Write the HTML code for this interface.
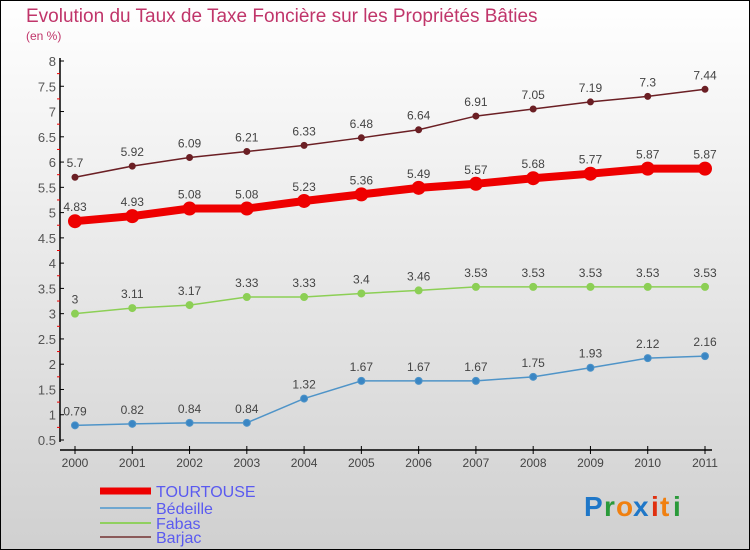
<!DOCTYPE html>
<html><head><meta charset="utf-8"><style>
body{margin:0}
#c{width:750px;height:550px;position:relative;overflow:hidden;background:linear-gradient(#ffffff,#d0d0d0);font-family:"Liberation Sans",sans-serif}
</style></head><body>
<div id="c">
<svg id="s" width="750" height="550" style="position:absolute;left:0;top:0">
<rect x="0.5" y="0.5" width="749" height="549" fill="none" stroke="#000"/>
<text x="26" y="22" font-size="19" fill="#c0356a">Evolution du Taux de Taxe Foncière sur les Propriétés Bâties</text>
<text x="26" y="40" font-size="12" fill="#c0356a">(en %)</text>
<g id="g"></g>
<g font-size="28" font-family="'Liberation Sans',sans-serif" font-weight="bold">
<text x="584" y="516" fill="#1f77c8">P</text><text x="604" y="516" fill="#2a9a3a">r</text><text x="616" y="516" fill="#f08010">o</text><text x="633" y="516" fill="#1f77c8">x</text><text x="651" y="516" fill="#e03010">i</text><text x="660" y="516" fill="#f08010">t</text><text x="673" y="516" fill="#2a9a3a">i</text>
</g>
</svg>
</div>
<script>
const years=[2000,2001,2002,2003,2004,2005,2006,2007,2008,2009,2010,2011];
const tourtouse=[4.83,4.93,5.08,5.08,5.23,5.36,5.49,5.57,5.68,5.77,5.87,5.87];
const bedeille=[0.79,0.82,0.84,0.84,1.32,1.67,1.67,1.67,1.75,1.93,2.12,2.16];
const fabas=[3,3.11,3.17,3.33,3.33,3.4,3.46,3.53,3.53,3.53,3.53,3.53];
const barjac=[5.7,5.92,6.09,6.21,6.33,6.48,6.64,6.91,7.05,7.19,7.3,7.44];
const yTicks=[0.5,1,1.5,2,2.5,3,3.5,4,4.5,5,5.5,6,6.5,7,7.5,8];
const NS="http://www.w3.org/2000/svg";
const g=document.getElementById('g');
function X(i){return 75+i*(705-75)/(years.length-1);}
function Y(v){return 440-(v-0.5)*(440-61)/7.5;}
function el(t,a,p){const e=document.createElementNS(NS,t);for(const k in a)e.setAttribute(k,a[k]);(p||g).appendChild(e);return e;}
let ax=el('line',{x1:60,y1:58,x2:60,y2:442,stroke:'#000','stroke-width':1.5});


let xa=el('line',{x1:60,y1:450,x2:712,y2:450,stroke:'#000','stroke-width':1.5});


yTicks.forEach(v=>{
 el('line',{x1:60,y1:Y(v),x2:64,y2:Y(v),stroke:'#000'});
 if(v<8)el('line',{x1:57,y1:Y(v+0.25),x2:60,y2:Y(v+0.25),stroke:'#e00'});
 const t=el('text',{x:56,y:Y(v)+5,'font-size':13,fill:'#555','text-anchor':'end'});t.textContent=String(v);
 
 
});
years.forEach((yr,i)=>{
 el('line',{x1:X(i),y1:446,x2:X(i),y2:454,stroke:'#000'});
 const t=el('text',{x:X(i),y:467,'font-size':12,fill:'#444','text-anchor':'middle'});t.textContent=yr;
 
 
});
function series(data,color,w,r,name,dot){
 const pts=data.map((v,i)=>X(i)+','+Y(v)).join(' ');
 const p=el('polyline',{points:pts,fill:'none',stroke:color,'stroke-width':w});
 
 
 data.forEach((v,i)=>{
  const c=el('circle',{cx:X(i),cy:Y(v),r:r,fill:dot,stroke:color,'stroke-width':1});
  
  
  const t=el('text',{x:X(i),y:Y(v)-10,'font-size':12,fill:'#444','text-anchor':'middle'});t.textContent=String(v);
  
  
 });
}
series(barjac,'#6b1f24',1.5,3,'barjac','#6b1f24');
series(fabas,'#8ccf55',1.5,3.5,'fabas','#8ccf55');
series(bedeille,'#4f94c8',1.5,3.5,'bedeille','#3a86c4');
series(tourtouse,'#ee0000',8,6.5,'tourtouse','#ee0000');
const legNames=['TOURTOUSE','Bédeille','Fabas','Barjac'];
const legColors=['#ee0000','#6fa7d0','#90d060','#8a5a5a'];
const legW=[7,2,2,2];const legY=[491,508,523,537];
legNames.forEach((n,i)=>{
 const l=el('line',{x1:100,y1:legY[i],x2:151,y2:legY[i],stroke:legColors[i],'stroke-width':legW[i]});
 
 
 const t=el('text',{x:156,y:legY[i]+6,'font-size':16,fill:'#5a5af0'});t.textContent=n;
 
 
});
</script>
</body></html>
